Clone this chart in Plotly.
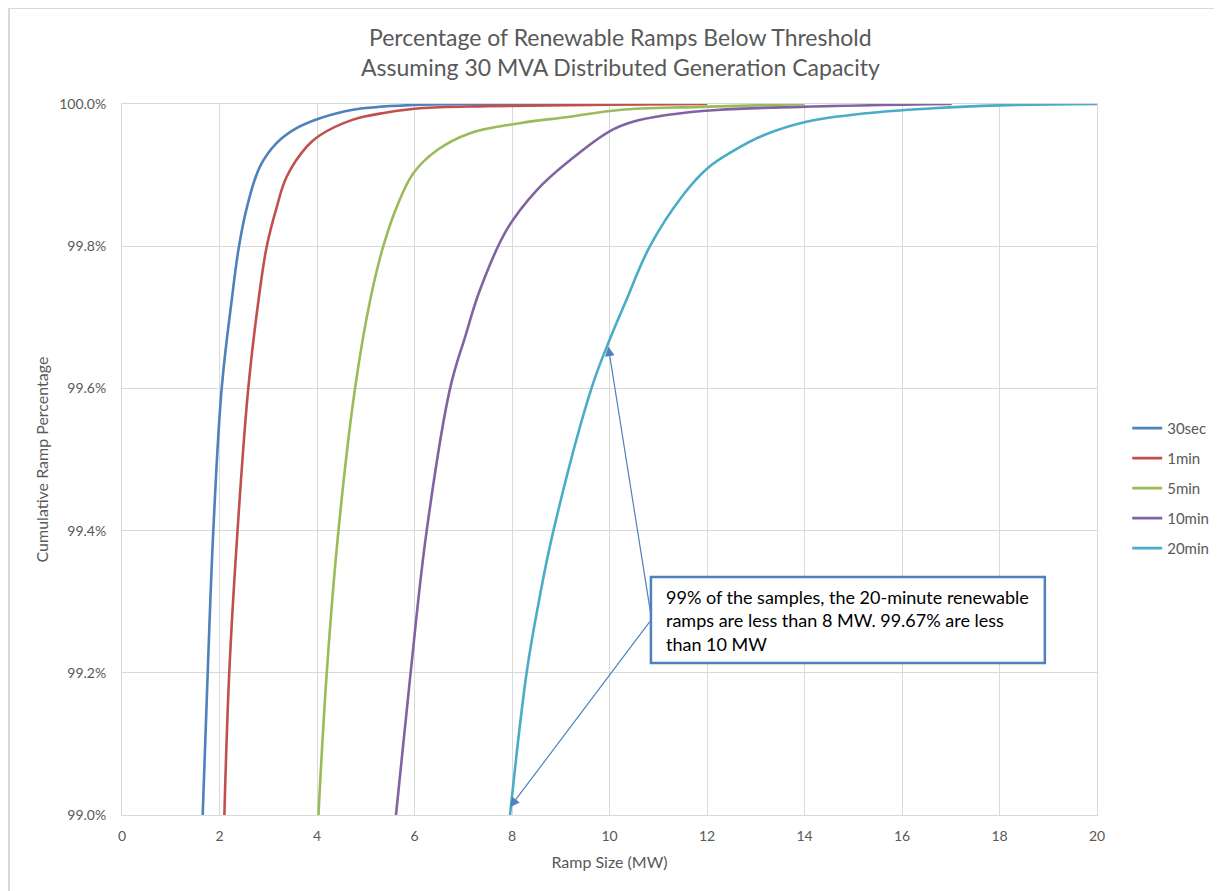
import plotly.graph_objects as go

# ---- data ----
series_names = ["30sec", "1min", "5min", "10min", "20min"]
series_colors = ["#4F81BD", "#C0504D", "#9BBB59", "#8064A2", "#4BACC6"]

x_30sec = [1.655, 1.758, 1.873, 2.045, 2.25, 2.40, 2.56, 2.83, 3.17, 3.58, 4.06, 4.74, 5.98, 8.0, 10.0]
y_30sec = [99.0, 99.2, 99.4, 99.6, 99.724, 99.8, 99.854, 99.912, 99.945, 99.966, 99.980, 99.992, 99.9986, 99.9995, 100.0]

x_1min = [2.10, 2.20, 2.37, 2.59, 2.80, 2.97, 3.17, 3.38, 3.79, 4.06, 4.74, 5.43, 6.11, 7.48, 10.0, 12.0]
y_1min = [99.0, 99.2, 99.4, 99.6, 99.724, 99.8, 99.854, 99.898, 99.940, 99.956, 99.978, 99.988, 99.994, 99.997, 99.999, 100.0]

x_5min = [4.03, 4.20, 4.44, 4.78, 5.09, 5.36, 5.64, 5.98, 6.46, 7.14, 8.16, 9.19, 10.2, 11.86, 14.0]
y_5min = [99.0, 99.2, 99.4, 99.6, 99.724, 99.8, 99.856, 99.903, 99.935, 99.959, 99.973, 99.982, 99.9916, 99.996, 100.0]

x_10min = [5.62, 5.92, 6.25, 6.73, 7.05, 7.34, 7.89, 8.51, 9.19, 10.01, 10.48, 11.17, 12.2, 13.9, 17.02]
y_10min = [99.0, 99.2, 99.4, 99.6, 99.675, 99.738, 99.823, 99.879, 99.921, 99.962, 99.975, 99.9845, 99.9916, 99.996, 100.0]

x_20min = [7.96, 8.30, 8.55, 8.85, 9.63, 10.0, 10.32, 10.83, 11.51, 12.0, 12.54, 13.16, 14.04, 15.27, 16.64, 18.0, 20.0]
y_20min = [99.0, 99.2, 99.30, 99.4, 99.6, 99.668, 99.72, 99.8, 99.872, 99.909, 99.934, 99.956, 99.975, 99.987, 99.994, 99.998, 100.0]

series_x = [x_30sec, x_1min, x_5min, x_10min, x_20min]
series_y = [y_30sec, y_1min, y_5min, y_10min, y_20min]

x_ticks = [0, 2, 4, 6, 8, 10, 12, 14, 16, 18, 20]
y_ticks = [99.0, 99.2, 99.4, 99.6, 99.8, 100.0]

title_lines = ["Percentage of Renewable Ramps Below Threshold",
               "Assuming 30 MVA Distributed Generation Capacity"]
note_text = ("99% of the samples, the 20-minute renewable<br>"
             "ramps are less than 8 MW. 99.67% are less<br>"
             "than 10 MW")
# text box corners (data units) and arrows
box_x = [10.85, 18.93]
box_y = [99.2138, 99.3347]
arrow_heads = [(7.96, 99.011), (9.975, 99.659)]
arrow_tails = [(10.85, 99.274), (10.85, 99.281)]

FONT = "Lato"
GRAY = "#595959"
GRID = "#D9D9D9"

# page body has an 8px margin, so the figure is drawn 8px smaller
W, H = 1214, 883
ML, MR, MT, MB = 114, 125, 96, 76
PW, PH = W - ML - MR, H - MT - MB

fig = go.Figure()
for i, name in enumerate(series_names):
    fig.add_trace(go.Scatter(
        x=series_x[i], y=series_y[i], mode="lines", name=name,
        line=dict(color=series_colors[i], width=2.6, shape="spline", smoothing=1.1),
        legendgroup=name,
    ))

fig.update_layout(
    width=W, height=H,
    paper_bgcolor="white", plot_bgcolor="white",
    margin=dict(l=ML, r=MR, t=MT, b=MB, autoexpand=False),
    font=dict(family=FONT, color=GRAY, size=14),
    showlegend=True,
    legend=dict(x=1.031, xanchor="left", y=0.567, yanchor="top",
                font=dict(family=FONT, size=15, color=GRAY),
                tracegroupgap=7.5, traceorder="grouped", bgcolor="rgba(0,0,0,0)"),
)

fig.update_xaxes(range=[0, 20], tickvals=x_ticks, ticktext=[str(v) for v in x_ticks],
                 showgrid=True, gridcolor=GRID, gridwidth=1, zeroline=False,
                 showline=True, linecolor=GRID, linewidth=1, mirror=True,
                 ticks="", ticklabelstandoff=8,
                 title=dict(text="Ramp Size (MW)", standoff=14, font=dict(size=16, color=GRAY)),
                 tickfont=dict(size=14, color=GRAY))
fig.update_yaxes(range=[99.0, 100.0], tickvals=y_ticks,
                 ticktext=[f"{v:.1f}%" for v in y_ticks],
                 showgrid=True, gridcolor=GRID, gridwidth=1, zeroline=False,
                 showline=True, linecolor=GRID, linewidth=1, mirror=True,
                 ticks="", ticklabelstandoff=12,
                 title=dict(text="Cumulative Ramp Percentage", standoff=6, font=dict(size=16, color=GRAY)),
                 tickfont=dict(size=14, color=GRAY))

# chart title (two centred lines)
title_centre_x = (612 - ML) / PW
for line_text, fy in zip(title_lines, [29, 59]):
    fig.add_annotation(x=title_centre_x, y=(H - MB - fy) / PH, xref="paper", yref="paper",
                       xanchor="center", yanchor="middle", text=line_text, showarrow=False,
                       font=dict(family=FONT, size=23, color=GRAY))

# annotation box + text
fig.add_shape(type="rect", xref="x", yref="y", x0=box_x[0], x1=box_x[1], y0=box_y[0], y1=box_y[1],
              line=dict(color="#4F81BD", width=2.5), fillcolor="white", layer="above")
fig.add_annotation(
    x=box_x[0] + 0.27, y=(box_y[0] + box_y[1]) / 2, xref="x", yref="y",
    xanchor="left", yanchor="middle",
    text=note_text, showarrow=False, align="left",
    font=dict(family=FONT, size=18, color="#000000"),
)
for (hx, hy), (tx, ty) in zip(arrow_heads, arrow_tails):
    fig.add_annotation(
        x=hx, y=hy, xref="x", yref="y", ax=tx, ay=ty, axref="x", ayref="y",
        text="", showarrow=True, arrowhead=2, arrowsize=1.6, arrowwidth=1.2,
        arrowcolor="#4F81BD", standoff=0,
    )

# outer chart border (top and left visible)
px0 = -ML / PW
fig.add_shape(type="line", xref="paper", yref="paper",
              x0=px0, x1=1.2, y0=(H - MB) / PH, y1=(H - MB) / PH,
              line=dict(color="#D9D9D9", width=2))
fig.add_shape(type="line", xref="paper", yref="paper",
              x0=px0 + 0.001, x1=px0 + 0.001, y0=(H - MB) / PH, y1=-0.2,
              line=dict(color="#D9D9D9", width=2))

fig.write_html("out.html")
